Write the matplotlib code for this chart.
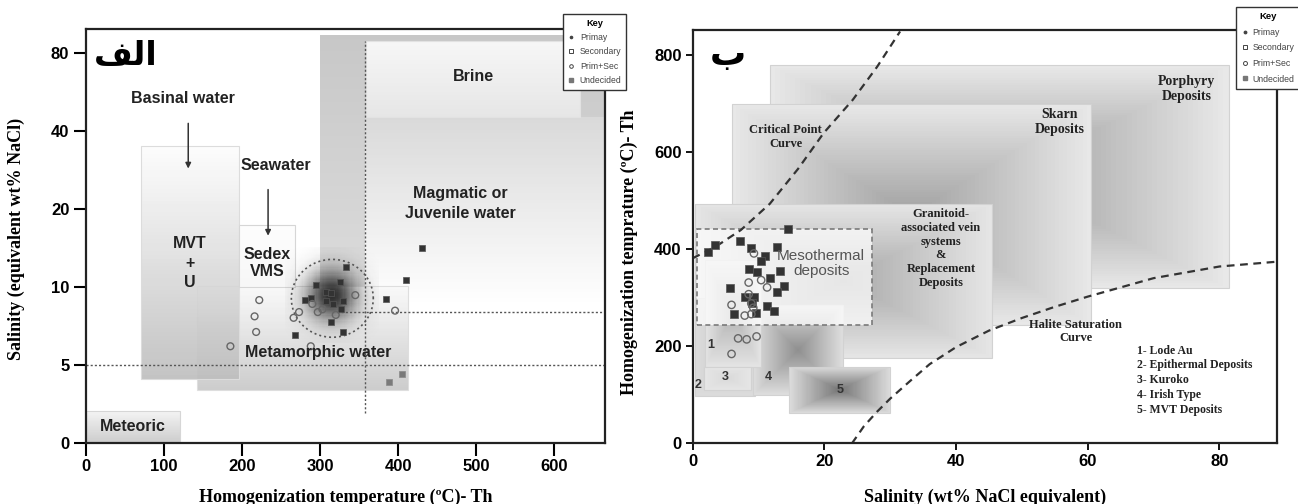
import numpy as np
import matplotlib
matplotlib.use('Agg')
import matplotlib.pyplot as plt
from matplotlib.colors import ListedColormap
from matplotlib.patches import Rectangle
from matplotlib.lines import Line2D

SANS = ['Liberation Sans', 'DejaVu Sans']
SERIF = ['Liberation Serif', 'DejaVu Serif']
NARROW = ['Liberation Sans Narrow', 'Liberation Sans', 'DejaVu Sans']
plt.rcParams['font.family'] = SANS

# ---------------- data: left panel (Th vs salinity) ----------------
sq_T = [430, 410, 385, 333, 295, 325, 307, 314, 288, 280, 307, 316, 329, 327, 314, 329, 268]
sq_sal = [14.2, 10.6, 9.0, 11.9, 10.2, 10.5, 9.6, 9.45, 9.1, 8.9, 8.85, 8.6, 8.8, 8.2, 7.3, 6.7, 6.55]
sq2_T = [388, 405]
sq2_sal = [3.9, 4.4]
ci_T = [222, 216, 218, 185, 266, 273, 290, 297, 303, 320, 345, 396, 288]
ci_sal = [8.9, 7.7, 6.7, 5.9, 7.6, 8.0, 8.6, 8.0, 8.2, 7.8, 9.3, 8.1, 5.9]

L_xticks = [0, 100, 200, 300, 400, 500, 600]
L_yticks = [0, 5, 10, 20, 40, 80]

# field boxes (T0, T1, sal0, sal1)
box_meteoric = (0, 121, 0, 2.05)
box_mvt = (70, 196, 4.1, 35)
box_meta = (141.6, 412, 3.38, 10.1)
box_sedex = (196, 268, 10, 17.3)
box_magma = (300, 665, 10, 94.6)
box_magma_fade = (358, 665, 8.3, 45.5)
box_brine = (359, 633, 45.5, 89.4)

# ---------------- data: right panel (salinity vs Th) ----------------
rsq_S = [14.5, 2.3, 3.4, 7.2, 8.9, 11.0, 10.4, 12.8, 8.5, 9.8, 13.2, 11.8, 13.8, 12.8,
         5.6, 7.9, 9.3, 9.0, 9.6, 11.3, 12.4, 6.3]
rsq_Th = [441, 393, 408, 417, 402, 386, 376, 405, 358, 353, 355, 341, 324, 312,
          319, 301, 301, 288, 268, 283, 273, 266]
rci_S = [9.3, 8.5, 10.4, 11.3, 8.5, 5.9, 8.9, 9.2, 7.9, 8.9, 6.9, 8.2, 9.7, 5.9]
rci_Th = [391, 331, 336, 321, 307, 285, 288, 279, 263, 266, 216, 214, 220, 184]

crit_S = [0, 3.5, 7.3, 11.7, 16.0, 19.9, 24.3, 28.0, 31.5]
crit_Th = [381, 405, 439, 493, 565, 639, 707, 775, 848]
hal_S = [24.2, 26, 28, 30, 33, 36, 40, 45, 50, 55, 60, 70, 80, 88.8]
hal_Th = [0, 35, 65, 92, 128, 163, 198, 232, 258, 281, 302, 340, 364, 374]

R_xticks = [0, 20, 40, 60, 80]
R_yticks = [0, 200, 400, 600, 800]

# boxes (S0, S1, Th0, Th1)
rbox_porph = (11.7, 81.4, 319, 778)
rbox_skarn = (6.0, 60.5, 244, 699)
rbox_gran = (0.3, 45.5, 176, 493)
rbox_epi = (0.3, 9.5, 97, 300)
rbox_irish = (9.1, 22.9, 99.5, 285)
rbox_lode = (1.9, 10.3, 158, 377)
rbox_kuroko = (1.7, 8.9, 110, 158)
rbox_mvt = (14.7, 30.0, 63, 158)
rbox_meso = (0.7, 27.2, 244, 441)

list_items = ['1- Lode Au', '2- Epithermal Deposits', '3- Kuroko', '4- Irish Type', '5- MVT Deposits']
key_labels = ['Primay', 'Secondary', 'Prim+Sec', 'Undecided']


# ---------------- helpers ----------------
def fwd(y):
    y = np.asarray(y, dtype=float)
    return np.where(y < 5, y / 5.0, 1.0 + np.log2(np.maximum(y, 5.0) / 5.0))


def inv(t):
    t = np.asarray(t, dtype=float)
    return np.where(t < 1, 5.0 * t, 5.0 * np.exp2(np.clip(t, 1.0, 60.0) - 1.0))


def grad_left(ax, box, l_bot, l_top, z, tilt=0.0, alpha=1.0, edge=None, n=60, m=1):
    x0, x1, y0, y1 = box
    ye = inv(np.linspace(fwd(y0), fwd(y1), n + 1))
    xe = np.linspace(x0, x1, m + 1)
    fy = (np.arange(n) + 0.5) / n
    fx = (np.arange(m) + 0.5) / m
    L = l_bot + (l_top - l_bot) * fy[:, None] + tilt * fx[None, :]
    ax.pcolormesh(xe, ye, np.clip(L, 0, 1), cmap='gray', vmin=0, vmax=1,
                  shading='flat', zorder=z, alpha=alpha, edgecolors='none')
    if edge:
        ax.add_patch(Rectangle((x0, y0), x1 - x0, y1 - y0, fill=False,
                               edgecolor=edge, lw=0.8, zorder=z))


def boxgrad(ax, box, l_edge, l_center, z, edge='#d2d2d2', n=90):
    x0, x1, y0, y1 = box
    xe = np.linspace(x0, x1, n + 1)
    ye = np.linspace(y0, y1, n + 1)
    c = (np.arange(n) + 0.5) / n * 2 - 1
    d = np.maximum(np.abs(c)[None, :], np.abs(c)[:, None])
    L = l_center + (l_edge - l_center) * d
    ax.pcolormesh(xe, ye, L, cmap='gray', vmin=0, vmax=1, shading='flat',
                  zorder=z, edgecolors='none')
    ax.add_patch(Rectangle((x0, y0), x1 - x0, y1 - y0, fill=False,
                           edgecolor=edge, lw=0.8, zorder=z))


W, H = 1298, 504
fig = plt.figure(figsize=(W / 100, H / 100), dpi=100)
axL = fig.add_axes([86 / W, (H - 442.7) / H, 519 / W, 413.4 / H])
axR = fig.add_axes([692.7 / W, (H - 443.3) / H, 584.6 / W, 413.3 / H])

# ======================= LEFT PANEL =======================
axL.set_yscale('function', functions=(fwd, inv))
axL.set_xlim(0, 665)
axL.set_ylim(0, float(inv(5.31)))

grad_left(axL, box_magma, 0.86, 0.78, 1.0, m=1)
grad_left(axL, box_magma_fade, 1.0, 0.85, 1.1)
grad_left(axL, box_brine, 0.90, 0.965, 1.2, edge='#e2e2e2')
grad_left(axL, box_meta, 0.80, 0.975, 1.3, edge='#dedede')
grad_left(axL, box_mvt, 0.74, 0.99, 1.4, alpha=0.9, edge='#dcdcdc')
grad_left(axL, box_sedex, 0.965, 0.99, 1.5, edge='#d6d6d6')
grad_left(axL, box_meteoric, 0.80, 0.955, 1.5, edge='#d6d6d6')

# dark glow around fluid inclusion cluster
PX_T, PX_t = 0.7805, 77.9
Tc, tc = 314.8, float(fwd(9.3))
Te = np.linspace(Tc - 60, Tc + 60, 81)
tE = np.linspace(tc - 0.62, tc + 0.62, 81)
Tm = (Te[:-1] + Te[1:]) / 2
tm = (tE[:-1] + tE[1:]) / 2
dist = np.hypot((Tm[None, :] - Tc) * PX_T, (tm[:, None] - tc) * PX_t)
A = np.exp(-(dist / 25.0) ** 2)
glow = ListedColormap([(0.12, 0.12, 0.12, a) for a in np.linspace(0, 0.93, 256)])
axL.pcolormesh(Te, inv(tE), A, cmap=glow, vmin=0, vmax=1, shading='flat', zorder=1.6)

# dotted circle
th = np.linspace(0, 2 * np.pi, 200)
cT, ct = 315.6, float(fwd(9.04))
axL.plot(cT + 52.5 * np.cos(th), inv(ct + 0.5 * np.sin(th)), color='#555555',
         lw=1.2, ls=(0, (1.2, 1.8)), zorder=3)

# dotted reference lines
axL.plot([0, 665], [5, 5], color='#555555', lw=1.0, ls=(0, (1.5, 1.5)), zorder=3)
axL.plot([321, 665], [8, 8], color='#555555', lw=1.0, ls=(0, (1.5, 1.5)), zorder=3)
axL.plot([358, 358], [1.9, 89], color='#555555', lw=1.0, ls=(0, (1.5, 1.5)), zorder=3)

# points
axL.scatter(sq_T, sq_sal, marker='s', s=22, c='#333333', edgecolors='#555555',
            linewidths=0.5, zorder=5)
axL.scatter(sq2_T, sq2_sal, marker='s', s=22, c='#7a7a7a', edgecolors='#8a8a8a',
            linewidths=0.5, zorder=5)
axL.scatter(ci_T, ci_sal, marker='o', s=24, facecolors='none', edgecolors='#666666',
            linewidths=1.0, zorder=5)

# arrows
axL.annotate('', xy=(131, 28), xytext=(131, 44),
             arrowprops=dict(arrowstyle='-|>', color='#333333', lw=1.1, mutation_scale=8), zorder=6)
axL.annotate('', xy=(233.3, 15.4), xytext=(233.3, 24.4),
             arrowprops=dict(arrowstyle='-|>', color='#333333', lw=1.1, mutation_scale=8), zorder=6)

tk = dict(fontsize=11.5, fontweight='bold', color='#222222', ha='center', va='center', zorder=7)
axL.text(124.7, 53.5, 'Basinal water', **tk)
axL.text(243.4, 29.4, 'Seawater', **tk)
axL.text(133, 14.7, 'MVT', **tk)
axL.text(133, 12.3, '+', **tk)
axL.text(133, 10.4, 'U', **tk)
axL.text(232, 13.4, 'Sedex', **tk)
axL.text(232, 11.5, 'VMS', **tk)
axL.text(497, 65, 'Brine', **tk)
axL.text(480, 23, 'Magmatic or', **tk)
axL.text(480, 19.3, 'Juvenile water', **tk)
axL.text(297, 5.57, 'Metamorphic water', **tk)
axL.text(60, 1.03, 'Meteoric', **tk)
# "الف" written in presentation forms (visual order) since matplotlib has no Arabic shaping
axL.text(51.2, 78.7, '\uFED2\uFEDF\uFE8D', fontsize=24, fontweight='bold',
         family=['DejaVu Sans'], ha='center', va='center', zorder=7)

axL.set_xticks(L_xticks)
axL.set_yticks(L_yticks)
axL.set_yticklabels([str(v) for v in L_yticks])
axL.minorticks_off()
axL.tick_params(direction='out', length=9, width=1.5, labelsize=12, pad=3)
axL.set_xlabel('Homogenization temperature (ºC)- Th', family=SERIF, fontsize=13,
               fontweight='bold')
axL.set_ylabel('Salinity (equivalent wt% NaCl)', family=SERIF, fontsize=13,
               fontweight='bold')
axL.xaxis.set_label_coords(0.5, -0.112)
axL.yaxis.set_label_coords(-0.118, 0.493)

# ======================= RIGHT PANEL =======================
axR.set_xlim(0, 88.8)
axR.set_ylim(0, 851)

boxgrad(axR, rbox_porph, 0.91, 0.60, 1.0)
boxgrad(axR, rbox_skarn, 0.91, 0.63, 1.1)
boxgrad(axR, rbox_gran, 0.90, 0.66, 1.2)
boxgrad(axR, rbox_epi, 0.86, 0.80, 1.3)
boxgrad(axR, rbox_irish, 0.87, 0.56, 1.4)
boxgrad(axR, rbox_lode, 0.89, 0.70, 1.5)
boxgrad(axR, rbox_kuroko, 0.90, 0.85, 1.6)
boxgrad(axR, rbox_mvt, 0.86, 0.46, 1.7)
m0, m1, m2, m3 = rbox_meso
axR.add_patch(Rectangle((m0, m2), m1 - m0, m3 - m2, facecolor='white', alpha=0.72,
                        edgecolor='none', zorder=2))
axR.add_patch(Rectangle((m0, m2), m1 - m0, m3 - m2, fill=False, edgecolor='#7a7a7a',
                        lw=1.2, ls=(0, (3, 2)), zorder=2.1))

axR.plot(crit_S, crit_Th, color='#333333', lw=1.6, ls=(0, (3.5, 2.5)), zorder=3)
axR.plot(hal_S, hal_Th, color='#333333', lw=1.6, ls=(0, (3.5, 2.5)), zorder=3, clip_on=True)

axR.scatter(rsq_S, rsq_Th, marker='s', s=26, c='#333333', edgecolors='#555555',
            linewidths=0.5, zorder=5)
axR.scatter(rci_S, rci_Th, marker='o', s=28, facecolors='none', edgecolors='#666666',
            linewidths=1.0, zorder=5)

sk = dict(family=SERIF, fontweight='bold', color='#222222', ha='center', va='center', zorder=7)
axR.text(75.0, 730, 'Porphyry\nDeposits', fontsize=10, linespacing=1.25, **sk)
axR.text(55.8, 662, 'Skarn\nDeposits', fontsize=10, linespacing=1.25, **sk)
axR.text(14.1, 630, 'Critical Point\nCurve', fontsize=9, linespacing=1.2, **sk)
axR.text(37.7, 401, 'Granitoid-\nassociated vein\nsystems\n&\nReplacement\nDeposits',
         fontsize=9, linespacing=1.18, **sk)
axR.text(58.2, 230, 'Halite Saturation\nCurve', fontsize=9, linespacing=1.2, **sk)
for i, lab in enumerate(list_items):
    axR.text(67.5, 190.8 - 30.5 * i, lab, fontsize=8.5, family=SERIF, fontweight='bold',
             color='#222222', ha='left', va='center', zorder=7)
axR.text(19.5, 370, 'Mesothermal\ndeposits', fontsize=11, color='#555555', ha='center',
         va='center', linespacing=1.1, zorder=7)
nk = dict(fontsize=9, fontweight='bold', color='#333333', ha='center', va='center', zorder=7)
axR.text(2.8, 202, '1', **nk)
axR.text(0.8, 120, '2', **nk)
axR.text(4.9, 137, '3', **nk)
axR.text(11.5, 137, '4', **nk)
axR.text(22.4, 110, '5', **nk)
axR.text(5.3, 800, '\u0628', fontsize=26, fontweight='bold', family=['DejaVu Sans'],
         ha='center', va='center', zorder=7)

axR.set_xticks(R_xticks)
axR.set_yticks(R_yticks)
axR.tick_params(direction='out', length=5, width=1.3, labelsize=12, pad=3)
axR.set_xlabel('Salinity (wt% NaCl equivalent)', family=SERIF, fontsize=13,
               fontweight='bold')
axR.set_ylabel('Homogenization temprature (ºC)- Th', family=SERIF, fontsize=13,
               fontweight='bold')
axR.xaxis.set_label_coords(0.5, -0.111)
axR.yaxis.set_label_coords(-0.094, 0.463)

for ax in (axL, axR):
    for sp in ax.spines.values():
        sp.set_linewidth(1.6)
        sp.set_color('#222222')
        sp.set_zorder(8)
    for lab in ax.get_xticklabels() + ax.get_yticklabels():
        lab.set_fontweight('bold')

# ---------------- keys ----------------
def key_handles(k):
    return [
        Line2D([], [], ls='none', marker='o', ms=1.6 * k, mfc='#444444', mec='#444444'),
        Line2D([], [], ls='none', marker='s', ms=2.6 * k, mfc='white', mec='#444444', mew=0.7),
        Line2D([], [], ls='none', marker='o', ms=2.6 * k, mfc='white', mec='#444444', mew=0.7),
        Line2D([], [], ls='none', marker='s', ms=2.6 * k, mfc='#777777', mec='#777777'),
    ]


for (x, y, fs, lsp, bp, k, htp) in [(563, 14, 6.2, 0.62, 0.55, 1.0, 0.6),
                                    (1236, 7, 6.3, 0.75, 0.6, 1.1, 0.45)]:
    lg = fig.legend(key_handles(k), key_labels, title='Key', loc='upper left',
                    bbox_to_anchor=(x / W, 1 - y / H), bbox_transform=fig.transFigure,
                    frameon=True, fancybox=False, edgecolor='#333333', framealpha=1,
                    prop={'family': NARROW, 'size': fs},
                    title_fontproperties={'family': NARROW, 'size': fs + 0.5, 'weight': 'bold'},
                    handlelength=0.8, handletextpad=htp, borderpad=bp, labelspacing=lsp,
                    borderaxespad=0)
    lg.get_frame().set_linewidth(1.0)
    for t in lg.get_texts():
        t.set_color('#444444')

fig.savefig('out.png', dpi=100)
